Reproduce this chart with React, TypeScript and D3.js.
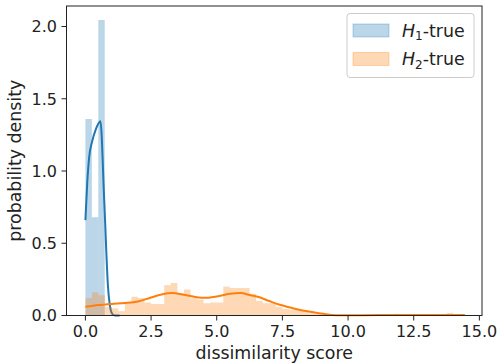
import { useEffect, useRef } from 'react'
import * as d3 from 'd3'

// histogram bins (density per bin)
const blueBinWidth = 0.245
const blueBins = [1.36, 0.68, 2.045]

const orangeBinWidth = 0.25
const orangeBins = [
  0.12, 0.16, 0.14, 0.06, 0.05, 0.03, 0.09, 0.13, 0.12, 0.09,
  0.08, 0.08, 0.21, 0.225, 0.155, 0.18, 0.12, 0.11, 0.085, 0.09,
  0.09, 0.2, 0.19, 0.19, 0.19, 0.15, 0.1, 0.085, 0.085, 0.06,
  0.045, 0.04, 0.04, 0.035, 0.015, 0.01, 0.005, 0.003, 0.002, 0,
  0.003, 0.002, 0.004, 0.003, 0.004, 0.005, 0.006, 0.012, 0.006, 0.004,
  0.004, 0.003, 0.003, 0.004, 0.005, 0.018, 0.006, 0.004,
]

// kde curves [x, density]
const blueKde: [number, number][] = [
  [0, 0.66], [0.07, 0.92], [0.14, 1.09], [0.25, 1.2], [0.4, 1.29], [0.57, 1.345],
  [0.72, 0.78], [0.86, 0.2], [0.94, 0.06], [1.02, 0.012], [1.12, 0], [1.3, 0],
]
const orangeKde: [number, number][] = [
  [0, 0.06], [0.5, 0.072], [1.0, 0.08], [1.5, 0.086], [2.0, 0.097], [2.5, 0.125],
  [2.9, 0.145], [3.3, 0.155], [3.8, 0.142], [4.5, 0.122], [5.0, 0.132], [5.5, 0.15],
  [5.9, 0.155], [6.3, 0.14], [6.6, 0.128], [7.0, 0.1], [7.4, 0.074], [7.8, 0.055],
  [8.1, 0.041], [8.5, 0.028], [8.9, 0.016], [9.3, 0.006], [9.8, 0.002], [10.5, 0.002],
  [11.2, 0.003], [12, 0.004], [13, 0.004], [14, 0.004], [14.45, 0.003],
]

const xTicks = [0, 2.5, 5, 7.5, 10, 12.5, 15]
const yTicks = [0, 0.5, 1, 1.5, 2]
const legendItems = [
  { sub: '1', color: '#1f77b4' },
  { sub: '2', color: '#ff7f0e' },
]

export default function App() {
  const svgRef = useRef<SVGSVGElement>(null)

  useEffect(() => {
    const W = 497, H = 363
    const m = { l: 66.5, r: 482, t: 6, b: 315.5 }
    const font = 'DejaVu Sans, sans-serif'
    const ink = '#222'
    const svg = d3.select(svgRef.current)
    svg.selectAll('*').remove()
    svg.attr('width', W).attr('height', H).style('background', '#fff')

    const x = d3.scaleLinear().domain([-0.72, 15.1]).range([m.l, m.r])
    const y = d3.scaleLinear().domain([0, 2.142]).range([m.b, m.t])

    // blue histogram + kde
    svg.append('g').selectAll('rect').data(blueBins).join('rect')
      .attr('x', (_, i) => x(i * blueBinWidth))
      .attr('width', x(blueBinWidth) - x(0))
      .attr('y', d => y(d)).attr('height', d => y(0) - y(d))
      .attr('fill', '#1f77b4').attr('fill-opacity', 0.3)

    const line = d3.line<[number, number]>().x(d => x(d[0])).y(d => y(d[1])).curve(d3.curveMonotoneX)
    svg.append('path').datum(blueKde).attr('fill', 'none').attr('stroke', '#1f77b4').attr('stroke-width', 2).attr('d', line)

    // orange histogram + kde
    svg.append('g').selectAll('rect').data(orangeBins).join('rect')
      .attr('x', (_, i) => x(i * orangeBinWidth))
      .attr('width', x(orangeBinWidth) - x(0))
      .attr('y', d => y(d)).attr('height', d => y(0) - y(d))
      .attr('fill', '#ff7f0e').attr('fill-opacity', 0.3)
    svg.append('path').datum(orangeKde).attr('fill', 'none').attr('stroke', '#ff7f0e').attr('stroke-width', 2).attr('d', line)

    // frame
    svg.append('rect').attr('x', m.l).attr('y', m.t).attr('width', m.r - m.l).attr('height', m.b - m.t)
      .attr('fill', 'none').attr('stroke', ink).attr('stroke-width', 1)

    // x ticks
    xTicks.forEach(v => {
      svg.append('line').attr('x1', x(v)).attr('x2', x(v)).attr('y1', m.b).attr('y2', m.b + 5).attr('stroke', ink)
      svg.append('text').attr('x', x(v)).attr('y', m.b + 21.5).attr('text-anchor', 'middle')
        .attr('font-family', font).attr('font-size', 16).attr('fill', ink).text(v.toFixed(1))
    })
    // y ticks
    yTicks.forEach(v => {
      svg.append('line').attr('x1', m.l - 5).attr('x2', m.l).attr('y1', y(v)).attr('y2', y(v)).attr('stroke', ink)
      svg.append('text').attr('x', m.l - 9.5).attr('y', y(v)).attr('dy', '0.36em').attr('text-anchor', 'end')
        .attr('font-family', font).attr('font-size', 16).attr('fill', ink).text(v.toFixed(1))
    })

    svg.append('text').attr('x', (m.l + m.r) / 2).attr('y', 359).attr('text-anchor', 'middle')
      .attr('font-family', font).attr('font-size', 17.4).attr('fill', ink).text('dissimilarity score')
    svg.append('text').attr('transform', `translate(21,${(m.t + m.b) / 2}) rotate(-90)`).attr('text-anchor', 'middle')
      .attr('font-family', font).attr('font-size', 17.4).attr('fill', ink).text('probability density')

    // legend
    const lg = svg.append('g')
    lg.append('rect').attr('x', 347).attr('y', 13.5).attr('width', 127).attr('height', 64).attr('rx', 3)
      .attr('fill', '#fff').attr('fill-opacity', 0.8).attr('stroke', '#ccc')
    legendItems.forEach((it, i) => {
      const yy = 30.5 + i * 28.5
      lg.append('rect').attr('x', 353).attr('y', yy - 6.5).attr('width', 36).attr('height', 13)
        .attr('fill', it.color).attr('fill-opacity', 0.3).attr('stroke', it.color).attr('stroke-opacity', 0.3)
      const t = lg.append('text').attr('x', 402).attr('y', yy + 6).attr('font-family', font).attr('font-size', 17.4).attr('fill', ink)
      t.append('tspan').attr('font-style', 'italic').text('H')
      t.append('tspan').attr('font-size', 12).attr('dy', 3.5).text(it.sub)
      t.append('tspan').attr('dy', -3.5).text('-true')
    })
  }, [])

  return (
    <div style={{ position: 'absolute', left: 0, top: 0 }}>
      <svg ref={svgRef} />
    </div>
  )
}
